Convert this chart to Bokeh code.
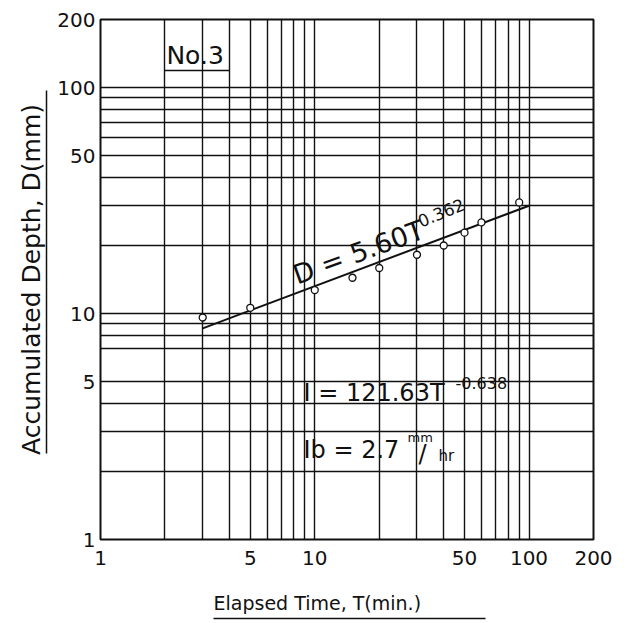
import math
from bokeh.plotting import figure
from bokeh.models import Range1d, FixedTicker, BasicTickFormatter, Label, LogAxis, Title
from bokeh.embed import file_html
from bokeh.resources import INLINE

# ---- data ----
time_min = [3, 5, 10, 15, 20, 30, 40, 50, 60, 90]
depth_mm = [9.6, 10.6, 12.7, 14.4, 15.9, 18.2, 20.0, 22.8, 25.3, 31.0]

fit_time = [3, 100]
fit_depth = [8.6, 30.0]

axis_ticks = [1, 5, 10, 50, 100, 200]
axis_tick_labels = ["1", "5", "10", "50", "100", "200"]

x_grid_values = [1, 2, 3, 4, 5, 6, 7, 8, 9, 10, 20, 30, 40, 50, 60, 70, 80, 90, 100, 200]
y_grid_values = [1, 2, 3, 4, 5, 7, 8, 9, 10, 20, 30, 40, 50, 60, 70, 80, 90, 100, 200]

FONT = "DejaVu Sans"
INK = "#111111"

p = figure(width=641, height=623,
           x_axis_type="log", y_axis_type="log",
           x_range=Range1d(1, 200), y_range=Range1d(1, 200),
           output_backend="svg", toolbar_location=None,
           min_border_left=100, min_border_right=48,
           min_border_top=19, min_border_bottom=84)

p.background_fill_color = "white"
p.border_fill_color = "white"
p.outline_line_color = INK
p.outline_line_width = 2

# grid
p.xgrid.ticker = FixedTicker(ticks=x_grid_values)
p.ygrid.ticker = FixedTicker(ticks=y_grid_values)
for g in (p.xgrid, p.ygrid):
    g.grid_line_color = INK
    g.grid_line_width = 1.4
    g.grid_line_alpha = 1.0

# main axes: tick labels only
tick_map = {t: s for t, s in zip(axis_ticks, axis_tick_labels)}
for ax in (p.xaxis, p.yaxis):
    ax.ticker = FixedTicker(ticks=axis_ticks, minor_ticks=[])
    ax.formatter = BasicTickFormatter()
    ax.major_label_overrides = tick_map
    ax.axis_line_color = None
    ax.major_tick_line_color = None
    ax.minor_tick_line_color = None
    ax.major_tick_out = 0
    ax.minor_tick_out = 0
    ax.major_tick_in = 0
    ax.minor_tick_in = 0
    ax.major_label_text_font = FONT
    ax.major_label_text_font_size = "20px"
    ax.major_label_text_color = INK
p.xaxis.major_label_standoff = 11
p.yaxis.major_label_standoff = 5


def blank_axis(**kw):
    return LogAxis(ticker=FixedTicker(ticks=[], minor_ticks=[]),
                   major_tick_line_color=None, minor_tick_line_color=None,
                   major_tick_in=0, minor_tick_in=0, minor_tick_out=0,
                   major_label_standoff=0,
                   axis_label_text_font=FONT, axis_label_text_color=INK,
                   axis_label_text_font_style="normal", **kw)


def spacer_axis(gap):
    # invisible axis whose only job is to take up `gap` pixels
    return LogAxis(ticker=FixedTicker(ticks=[10], minor_ticks=[]),
                   formatter=BasicTickFormatter(),
                   major_label_overrides={10: ""},
                   major_label_text_font_size="1px",
                   major_label_standoff=0,
                   major_tick_out=gap, major_tick_in=0,
                   major_tick_line_color=None, minor_tick_line_color=None,
                   minor_tick_out=0, minor_tick_in=0,
                   axis_line_color=None)


# x title (left-aligned with offset) and its underline
x_title = Title(text="Elapsed Time, T(min.)", align="left", offset=113,
                text_font=FONT, text_font_size="19px", text_font_style="normal",
                text_color=INK, standoff=10)
x_rule_axis = blank_axis(bounds=(3.37, 62.9), axis_line_color=INK, axis_line_width=1.5,
                         major_tick_out=0)
p.add_layout(spacer_axis(17), "below")
p.add_layout(x_title, "below")
p.add_layout(x_rule_axis, "below")

# y spacer, underline and title
y_title_axis = blank_axis(bounds=(2.40, 97.0), axis_line_color=INK, axis_line_width=1.5,
                          major_tick_out=0,
                          axis_label="Accumulated Depth, D(mm)",
                          axis_label_standoff=1, axis_label_text_font_size="25px")
p.add_layout(spacer_axis(8), "left")
p.add_layout(y_title_axis, "left")

# fitted line and observations
p.line(fit_time, fit_depth, line_color=INK, line_width=2)
p.scatter(time_min, depth_mm, marker="circle", size=7,
          fill_color="white", line_color=INK, line_width=1.3)

# "No.3" box
p.line([2, 4], [119, 119], line_color=INK, line_width=1.5)
p.add_layout(Label(x=2.03, y=138, text="No.3", text_font=FONT,
                   text_font_size="25px", text_color=INK,
                   text_baseline="alphabetic"))

# equation D
p.add_layout(Label(x=8.0, y=14.7, text="D = 5.60T", text_font=FONT,
                   text_font_size="27px", text_color=INK, angle=math.radians(20),
                   text_baseline="alphabetic"))
p.add_layout(Label(x=30.5, y=25.5, text="0.362", text_font=FONT,
                   text_font_size="17px", text_color=INK, angle=math.radians(22),
                   text_baseline="alphabetic"))

# equation I
p.add_layout(Label(x=8.86, y=4.43, text="I = 121.63T", text_font=FONT,
                   text_font_size="24px", text_color=INK,
                   text_baseline="alphabetic"))
p.add_layout(Label(x=45.4, y=4.95, text="-0.638", text_font=FONT,
                   text_font_size="16px", text_color=INK,
                   text_baseline="alphabetic"))

# Ib
p.add_layout(Label(x=8.86, y=2.50, text="Ib = 2.7", text_font=FONT,
                   text_font_size="24px", text_color=INK,
                   text_baseline="alphabetic"))
p.add_layout(Label(x=27.1, y=2.83, text="mm", text_font=FONT,
                   text_font_size="13px", text_color=INK,
                   text_baseline="alphabetic"))
p.add_layout(Label(x=30.5, y=2.40, text="/", text_font=FONT,
                   text_font_size="24px", text_color=INK,
                   text_baseline="alphabetic"))
p.add_layout(Label(x=37.8, y=2.33, text="hr", text_font=FONT,
                   text_font_size="15px", text_color=INK,
                   text_baseline="alphabetic"))

open("out.html", "w").write(file_html(p, INLINE))
